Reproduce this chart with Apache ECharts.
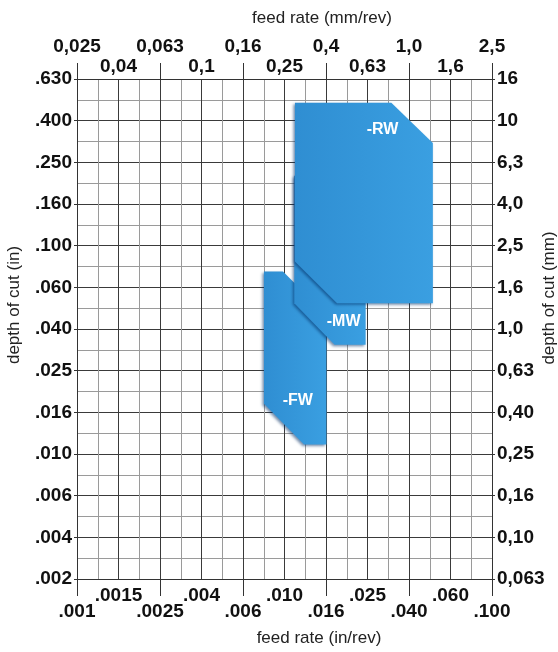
<!DOCTYPE html>
<html>
<head>
<meta charset="utf-8">
<script src="https://cdn.jsdelivr.net/npm/echarts@6/dist/echarts.min.js"></script>
<style>
  html, body { margin: 0; padding: 0; background: #fff; }
  #chart { width: 558px; height: 652px; }
</style>
</head>
<body>
<div id="chart"></div>
<script>
// Nominal grid labels, one per 0.2 decade (log grid with 0.1-decade lines)
const feedInLabels = ['.001', '.0015', '.0025', '.004', '.006', '.010', '.016', '.025', '.040', '.060', '.100'];
const feedMmLabels = ['0,025', '0,04', '0,063', '0,1', '0,16', '0,25', '0,4', '0,63', '1,0', '1,6', '2,5'];
const depthInLabels = ['.002', '.004', '.006', '.010', '.016', '.025', '.040', '.060', '.100', '.160', '.250', '.400', '.630'];
const depthMmLabels = ['0,063', '0,10', '0,16', '0,25', '0,40', '0,63', '1,0', '1,6', '2,5', '4,0', '6,3', '10', '16'];

// Application areas per insert geometry: outline vertices, feed (mm/rev) and depth of cut (mm)
const geometryNames = ['-FW', '-MW', '-RW'];
const fwFeed  = [0.200, 0.247, 0.400, 0.400, 0.312, 0.200];
const fwDepth = [1.89, 1.89, 1.17, 0.279, 0.279, 0.438];
const mwFeed  = [0.280, 0.618, 0.618, 0.438, 0.280];
const mwDepth = [5.44, 5.44, 0.841, 0.841, 1.33];
const rwFeed  = [0.282, 0.822, 1.303, 1.303, 0.450, 0.282];
const rwDepth = [12.2, 12.2, 7.82, 1.33, 1.33, 2.11];
// Where each geometry name sits inside its area
const labelFeed  = [0.291, 0.484, 0.746];
const labelDepth = [0.453, 1.08, 9.06];

const areaFeed = [fwFeed, mwFeed, rwFeed];
const areaDepth = [fwDepth, mwDepth, rwDepth];

// Axes run in log10 units of mm: feed 0.025..2.5, depth 0.063..16
const X_MIN = -1.6, X_MAX = 0.4, Y_MIN = -1.2, Y_MAX = 1.2;
const STEP = 0.1;

const tickFont = { fontFamily: 'Liberation Sans', fontWeight: 'bold', fontSize: 19, color: '#111' };
const titleFont = '17px "Liberation Sans"';

function idx(v, min) { return Math.round((v - min) / 0.2); }

function baseAxis(extra) {
  return Object.assign({
    type: 'value',
    axisLine: { show: false, onZero: false },
    axisTick: { show: false },
    axisLabel: { show: false },
    splitLine: { show: false }
  }, extra);
}

const xAxes = [
  // grid lines every 0.1 decade
  baseAxis({
    position: 'bottom', min: X_MIN, max: X_MAX, interval: STEP,
    axisLine: { show: true, onZero: false, lineStyle: { color: '#333', width: 1 } },
    splitLine: { show: true, lineStyle: { color: ['#3a3a3a', '#9a9a9a'], width: 1 } }
  }),
  // bottom, lower row: .001, .0025, ...
  baseAxis({
    position: 'bottom', min: X_MIN, max: X_MAX, interval: 0.4,
    axisTick: { show: true, length: 17, lineStyle: { color: '#333' } },
    axisLabel: Object.assign({ show: true, margin: 23, showMinLabel: true, showMaxLabel: true,
      formatter: v => feedInLabels[idx(v, X_MIN)] }, tickFont)
  }),
  // bottom, upper row: .0015, .004, ...
  baseAxis({
    position: 'bottom', min: X_MIN, max: X_MAX, interval: 0.2,
    axisLabel: Object.assign({ show: true, margin: 7, showMinLabel: true, showMaxLabel: true,
      formatter: v => { const k = idx(v, X_MIN); return k % 2 ? feedInLabels[k] : ''; } }, tickFont)
  }),
  // top, upper row: 0,025, 0,063, ...
  baseAxis({
    position: 'top', min: X_MIN, max: X_MAX, interval: 0.4,
    axisLine: { show: true, onZero: false, lineStyle: { color: '#333', width: 1 } },
    axisTick: { show: true, length: 16, lineStyle: { color: '#333' } },
    axisLabel: Object.assign({ show: true, margin: 23, showMinLabel: true, showMaxLabel: true,
      formatter: v => feedMmLabels[idx(v, X_MIN)] }, tickFont)
  }),
  // top, lower row: 0,04, 0,1, ...
  baseAxis({
    position: 'top', min: X_MIN, max: X_MAX, interval: 0.2,
    axisLabel: Object.assign({ show: true, margin: 3, showMinLabel: true, showMaxLabel: true,
      formatter: v => { const k = idx(v, X_MIN); return k % 2 ? feedMmLabels[k] : ''; } }, tickFont)
  })
];

const yAxes = [
  baseAxis({
    position: 'left', min: Y_MIN, max: Y_MAX, interval: STEP,
    axisLine: { show: true, onZero: false, lineStyle: { color: '#333', width: 1 } },
    splitLine: { show: true, lineStyle: { color: ['#3a3a3a', '#9a9a9a'], width: 1 } }
  }),
  baseAxis({
    position: 'left', min: Y_MIN, max: Y_MAX, interval: 0.2,
    axisTick: { show: true, length: 3, lineStyle: { color: '#333' } },
    axisLabel: Object.assign({ show: true, margin: 5, showMinLabel: true, showMaxLabel: true,
      formatter: v => depthInLabels[idx(v, Y_MIN)] }, tickFont)
  }),
  baseAxis({
    position: 'right', min: Y_MIN, max: Y_MAX, interval: 0.2,
    axisLine: { show: true, onZero: false, lineStyle: { color: '#333', width: 1 } },
    axisTick: { show: true, length: 3, lineStyle: { color: '#333' } },
    axisLabel: Object.assign({ show: true, margin: 5, showMinLabel: true, showMaxLabel: true,
      formatter: v => depthMmLabels[idx(v, Y_MIN)] }, tickFont)
  })
];

const areaData = geometryNames.map((name, k) => [Math.log10(labelFeed[k]), Math.log10(labelDepth[k]), k]);

const chart = echarts.init(document.getElementById('chart'), null, { renderer: 'canvas' });
chart.setOption({
  animation: false,
  backgroundColor: '#fff',
  grid: { left: 77, right: 66, top: 79, bottom: 73, outerBoundsMode: 'none', containLabel: false },
  xAxis: xAxes,
  yAxis: yAxes,
  graphic: [
    { type: 'text', x: 322, y: 18, style: { text: 'feed rate (mm/rev)', font: titleFont, fill: '#222', align: 'center', verticalAlign: 'middle' } },
    { type: 'text', x: 319, y: 638, style: { text: 'feed rate (in/rev)', font: titleFont, fill: '#222', align: 'center', verticalAlign: 'middle' } },
    { type: 'text', x: 14, y: 305, rotation: Math.PI / 2, style: { text: 'depth of cut (in)', font: titleFont, fill: '#222', align: 'center', verticalAlign: 'middle' } },
    { type: 'text', x: 549, y: 298, rotation: Math.PI / 2, style: { text: 'depth of cut (mm)', font: titleFont, fill: '#222', align: 'center', verticalAlign: 'middle' } }
  ],
  series: [{
    type: 'custom',
    xAxisIndex: 0,
    yAxisIndex: 0,
    clip: false,
    data: areaData,
    renderItem: function (params, api) {
      const k = api.value(2);
      const feed = areaFeed[k], depth = areaDepth[k];
      const pts = feed.map((f, n) => api.coord([Math.log10(f), Math.log10(depth[n])]));
      const c = api.coord([api.value(0), api.value(1)]);
      return {
        type: 'group',
        children: [{
          type: 'polygon',
          shape: { points: pts },
          style: {
            fill: new echarts.graphic.LinearGradient(0, 0, 1, 0, [
              { offset: 0, color: '#2f8ed2' },
              { offset: 1, color: '#3a9fe1' }
            ]),
            shadowBlur: 3,
            shadowColor: 'rgba(0, 45, 100, 0.55)',
            shadowOffsetX: -1.5,
            shadowOffsetY: 1.5
          }
        }, {
          type: 'text',
          x: c[0], y: c[1],
          style: {
            text: geometryNames[k],
            fill: '#fff',
            font: 'bold 16px "Liberation Sans"',
            align: 'center',
            verticalAlign: 'middle'
          }
        }]
      };
    }
  }]
});
</script>
</body>
</html>
